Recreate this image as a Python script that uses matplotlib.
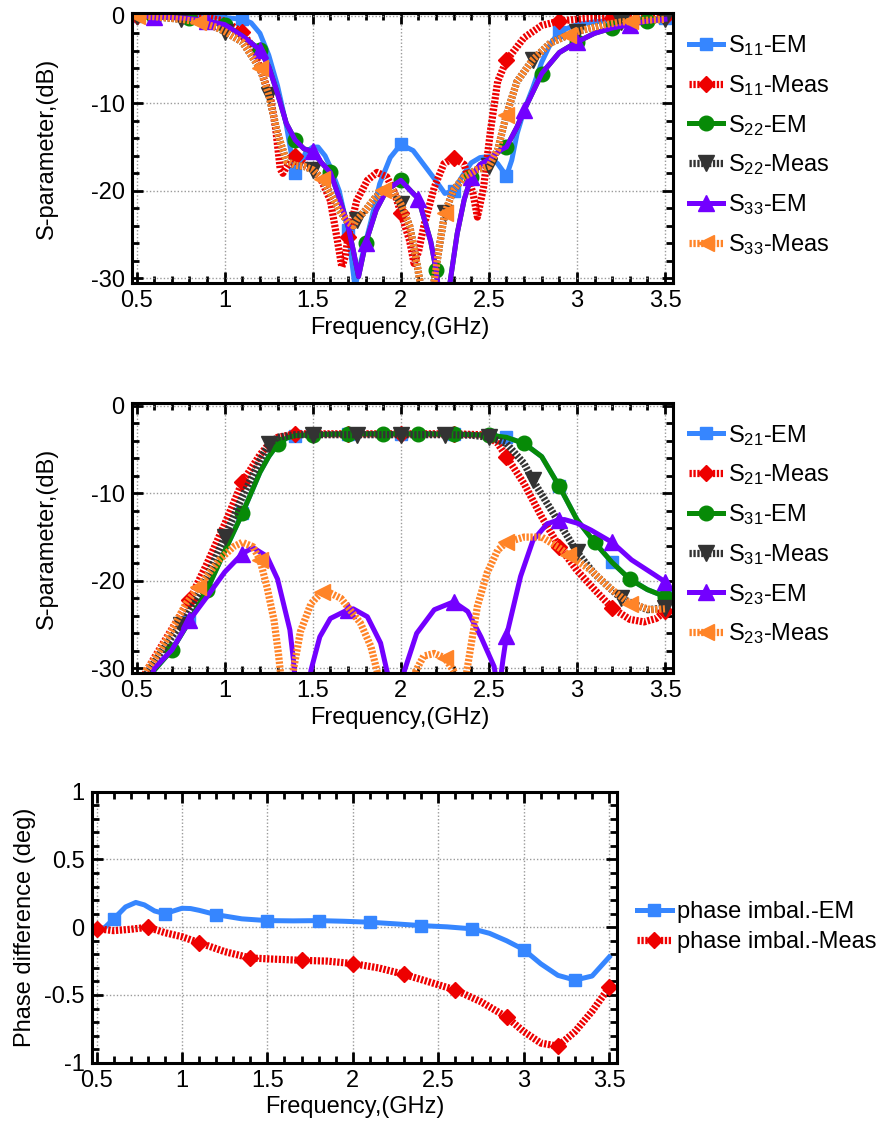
import numpy as np
import matplotlib
matplotlib.use("Agg")
import matplotlib.pyplot as plt
from matplotlib.ticker import MultipleLocator, FuncFormatter

plt.rcParams['font.family'] = ['Liberation Sans', 'DejaVu Sans']
plt.rcParams['mathtext.fontset'] = 'custom'
plt.rcParams['mathtext.rm'] = 'Liberation Sans'
plt.rcParams['mathtext.it'] = 'Liberation Sans:italic'
plt.rcParams['axes.unicode_minus'] = False
plt.rcParams['font.size'] = 17

# ---------------- reflection (top panel), (GHz, dB) ----------------
s11_em = [(0.5, 0), (0.8, 0), (1.0, -0.2), (1.1, -0.4), (1.15, -0.8), (1.2, -2.0), (1.25, -4.5),
          (1.3, -8.0), (1.35, -12.5), (1.38, -16.0), (1.4, -18.0), (1.43, -17.0), (1.46, -15.6),
          (1.5, -15.0), (1.53, -15.0), (1.57, -16.0), (1.6, -17.3), (1.65, -20.0), (1.7, -24.5),
          (1.74, -31.0), (1.78, -27.5), (1.83, -23.5), (1.88, -19.2), (1.94, -16.2), (2.0, -14.7),
          (2.07, -15.4), (2.13, -17.0), (2.19, -18.6), (2.25, -20.3), (2.3, -20.0), (2.35, -18.3),
          (2.4, -16.8), (2.45, -16.2), (2.5, -16.1), (2.55, -16.9), (2.6, -18.3), (2.63, -16.5),
          (2.66, -13.5), (2.7, -10.8), (2.75, -8.2), (2.8, -5.3), (2.85, -3.2), (2.9, -1.8),
          (3.0, -1.0), (3.1, -0.7), (3.2, -0.5), (3.35, -0.4), (3.5, -0.3)]
s11_meas = [(0.5, 0), (0.8, 0), (0.9, -0.2), (1.0, -0.6), (1.1, -1.9), (1.15, -3.3), (1.2, -5.9),
            (1.26, -9.3), (1.29, -13.0), (1.315, -17.5), (1.33, -18.0), (1.36, -17.0), (1.4, -16.0),
            (1.45, -16.9), (1.5, -17.6), (1.54, -18.4), (1.6, -21.1), (1.64, -25.7), (1.665, -28.7),
            (1.685, -27.5), (1.7, -25.3), (1.75, -21.1), (1.81, -18.8), (1.865, -17.9), (1.92, -18.4),
            (1.96, -20.0), (2.0, -22.5), (2.05, -25.7), (2.075, -28.3), (2.1, -27.0), (2.13, -24.1),
            (2.19, -19.6), (2.245, -16.9), (2.3, -16.2), (2.36, -17.0), (2.41, -20.3), (2.435, -23.0),
            (2.47, -19.6), (2.51, -13.0), (2.55, -7.5), (2.6, -5.1), (2.7, -2.5), (2.8, -1.1),
            (2.9, -0.6), (3.05, -0.3), (3.2, -0.2), (3.5, -0.1)]
s33_em = [(0.5, 0), (0.6, -0.1), (0.8, -0.3), (0.9, -0.6), (1.0, -1.0), (1.1, -2.3), (1.2, -3.9),
          (1.25, -5.8), (1.3, -8.9), (1.35, -12.3), (1.4, -14.2), (1.45, -15.2), (1.5, -15.5),
          (1.55, -16.8), (1.6, -17.9), (1.65, -20.8), (1.7, -24.0), (1.73, -26.8), (1.76, -29.8),
          (1.8, -26.0), (1.86, -22.2), (1.92, -19.9), (2.0, -18.8), (2.07, -20.3), (2.1, -20.9),
          (2.13, -23.0), (2.17, -25.8), (2.2, -29.0), (2.225, -33.0), (2.26, -33.0), (2.28, -30.4),
          (2.32, -24.9), (2.36, -21.0), (2.4, -18.4), (2.45, -17.0), (2.5, -16.4), (2.57, -15.3),
          (2.6, -15.0), (2.66, -12.7), (2.7, -10.8), (2.8, -6.6), (2.9, -4.2), (3.0, -3.0),
          (3.1, -2.0), (3.2, -1.4), (3.3, -1.0), (3.4, -0.6), (3.5, -0.4)]
s22_em = list(s33_em)
s33_meas = [(0.5, 0), (0.6, -0.1), (0.75, -0.4), (0.85, -0.7), (0.95, -1.3), (1.0, -1.8), (1.1, -3.0),
            (1.2, -6.0), (1.25, -9.0), (1.3, -13.4), (1.35, -16.6), (1.4, -17.1), (1.45, -17.2),
            (1.5, -17.6), (1.55, -18.6), (1.6, -20.3), (1.65, -22.2), (1.7, -23.6), (1.73, -24.0),
            (1.75, -23.3), (1.8, -22.2), (1.85, -20.9), (1.9, -19.9), (1.95, -19.8), (2.0, -21.5),
            (2.05, -24.0), (2.08, -27.0), (2.11, -30.5), (2.14, -33.0), (2.17, -33.0), (2.19, -30.2),
            (2.22, -26.2), (2.25, -22.5), (2.3, -19.9), (2.36, -18.4), (2.43, -17.6), (2.5, -17.2),
            (2.55, -15.3), (2.6, -11.3), (2.66, -7.5), (2.75, -5.0), (2.85, -3.1), (2.95, -2.2),
            (3.0, -1.8), (3.15, -1.05), (3.25, -0.7), (3.3, -0.65), (3.4, -0.5), (3.5, -0.4)]
s22_meas = list(s33_meas)

# ---------------- transmission / isolation (middle panel) ----------------
s31_em = [(0.55, -32.0), (0.6, -30.2), (0.7, -27.9), (0.8, -24.6), (0.9, -21.0), (1.0, -16.6),
          (1.1, -12.3), (1.2, -7.6), (1.25, -5.8), (1.3, -4.4), (1.35, -3.7), (1.4, -3.4),
          (1.5, -3.3), (1.7, -3.2), (1.9, -3.2), (2.0, -3.2), (2.1, -3.2), (2.3, -3.25), (2.5, -3.35),
          (2.6, -3.6), (2.7, -4.3), (2.8, -5.8), (2.9, -9.2), (3.0, -13.0), (3.1, -15.6),
          (3.2, -17.9), (3.3, -19.8), (3.4, -21.0), (3.5, -21.8)]
s21_em = list(s31_em)
s21_meas = [(0.53, -32.0), (0.55, -30.5), (0.6, -28.8), (0.7, -25.5), (0.8, -22.2), (0.9, -18.0),
            (1.0, -13.5), (1.1, -8.7), (1.2, -5.6), (1.25, -4.4), (1.3, -3.6), (1.4, -3.2),
            (1.7, -3.2), (2.0, -3.2), (2.3, -3.2), (2.45, -3.3), (2.5, -3.5), (2.55, -4.3),
            (2.6, -5.8), (2.7, -8.9), (2.8, -12.7), (2.9, -16.1), (3.0, -18.8), (3.1, -21.0),
            (3.2, -23.1), (3.3, -24.4), (3.38, -24.7), (3.45, -24.3), (3.5, -23.5)]
s31_meas = [(0.54, -32.0), (0.56, -30.5), (0.65, -27.8), (0.75, -25.0), (0.85, -21.5), (0.9, -19.5),
            (1.0, -15.0), (1.1, -10.4), (1.2, -6.2), (1.25, -4.4), (1.3, -3.6), (1.4, -3.3),
            (1.5, -3.3), (1.75, -3.3), (2.0, -3.3), (2.25, -3.3), (2.4, -3.35), (2.5, -3.6),
            (2.6, -4.3), (2.7, -6.6), (2.75, -8.5), (2.9, -13.4), (3.0, -16.7), (3.1, -19.2),
            (3.25, -22.0), (3.4, -23.3), (3.5, -23.1)]
s23_em = [(0.57, -32.0), (0.6, -30.0), (0.7, -27.9), (0.8, -24.5), (0.9, -21.8), (1.0, -19.0),
          (1.1, -16.9), (1.16, -16.2), (1.24, -17.2), (1.3, -19.8), (1.37, -25.6), (1.39, -29.0),
          (1.4, -31.5), (1.43, -34.0), (1.46, -34.0), (1.49, -30.2), (1.54, -26.4), (1.6, -24.3),
          (1.7, -23.3), (1.73, -23.2), (1.81, -24.1), (1.885, -27.1), (1.92, -30.2), (1.97, -34.0),
          (2.0, -33.5), (2.02, -30.3), (2.09, -26.0), (2.19, -23.3), (2.3, -22.4), (2.38, -23.5),
          (2.455, -26.4), (2.53, -29.8), (2.555, -33.0), (2.58, -29.0), (2.6, -26.3), (2.68, -19.5),
          (2.75, -15.4), (2.83, -13.5), (2.9, -13.0), (2.93, -13.0), (3.0, -13.4), (3.08, -14.2),
          (3.2, -15.6), (3.31, -17.6), (3.44, -19.3), (3.5, -20.1)]
s23_meas = [(0.53, -32.0), (0.555, -30.2), (0.6, -29.0), (0.69, -26.0), (0.78, -22.6), (0.85, -20.7),
            (0.9, -19.4), (0.97, -17.6), (1.05, -16.1), (1.1, -15.6), (1.16, -16.1), (1.2, -17.6),
            (1.24, -20.7), (1.28, -24.5), (1.305, -28.3), (1.315, -30.2), (1.33, -34.0), (1.37, -34.0),
            (1.39, -30.2), (1.43, -25.8), (1.49, -22.6), (1.55, -21.3), (1.6, -21.4), (1.66, -22.0),
            (1.77, -24.8), (1.83, -27.5), (1.865, -30.3), (1.88, -34.0), (1.9, -35.0), (2.07, -34.0),
            (2.085, -30.3), (2.13, -28.6), (2.19, -28.3), (2.25, -28.8), (2.3, -30.3), (2.33, -34.0),
            (2.36, -34.0), (2.375, -30.3), (2.435, -22.9), (2.49, -19.1), (2.55, -16.5), (2.6, -15.6),
            (2.7, -15.0), (2.8, -15.0), (2.89, -16.1), (2.95, -17.0), (3.08, -18.8), (3.18, -20.7),
            (3.3, -22.6), (3.42, -23.3), (3.5, -23.2)]

# ---------------- phase imbalance (bottom panel), (GHz, deg) ----------------
phase_em = [(0.5, -0.03), (0.55, 0.0), (0.6, 0.061), (0.67, 0.15), (0.73, 0.183), (0.78, 0.165),
            (0.84, 0.12), (0.9, 0.10), (0.95, 0.12), (1.0, 0.14), (1.05, 0.138), (1.1, 0.125),
            (1.2, 0.093), (1.35, 0.062), (1.5, 0.049), (1.65, 0.047), (1.8, 0.049), (1.95, 0.044),
            (2.1, 0.037), (2.25, 0.025), (2.4, 0.012), (2.55, 0.003), (2.7, -0.012), (2.8, -0.045),
            (2.9, -0.1), (3.0, -0.165), (3.1, -0.27), (3.2, -0.355), (3.3, -0.39), (3.4, -0.36),
            (3.5, -0.22)]
phase_meas = [(0.5, -0.01), (0.6, -0.025), (0.7, -0.015), (0.8, 0.0), (0.9, -0.04), (1.0, -0.07),
              (1.1, -0.114), (1.25, -0.18), (1.4, -0.227), (1.55, -0.236), (1.7, -0.244),
              (1.85, -0.25), (2.0, -0.268), (2.15, -0.3), (2.3, -0.348), (2.45, -0.405),
              (2.6, -0.463), (2.75, -0.55), (2.9, -0.663), (3.0, -0.77), (3.1, -0.855),
              (3.2, -0.878), (3.3, -0.77), (3.4, -0.62), (3.5, -0.444)]

# marker frequencies of each trace
mk_03 = [0.5, 0.8, 1.1, 1.4, 1.7, 2.0, 2.3, 2.6, 2.9, 3.2, 3.5]
mk_02a = [0.6, 0.8, 1.0, 1.2, 1.4, 1.6, 1.8, 2.0, 2.2, 2.4, 2.6, 2.8, 3.0, 3.2, 3.4]
mk_02b = [0.7, 0.9, 1.1, 1.3, 1.5, 1.7, 1.9, 2.1, 2.3, 2.5, 2.7, 2.9, 3.1, 3.3, 3.5]
mk_025 = [0.5, 0.75, 1.0, 1.25, 1.5, 1.75, 2.0, 2.25, 2.5, 2.75, 3.0, 3.25, 3.5]
mk_03b = [0.6, 0.9, 1.2, 1.5, 1.8, 2.1, 2.4, 2.7, 3.0, 3.3]
mk_035 = [0.5, 0.85, 1.2, 1.55, 1.9, 2.25, 2.6, 2.95, 3.3]

BLUE = '#3686ff'
RED = '#ee0000'
GREEN = '#078a07'
BLACK = '#333333'
PURPLE = '#7300ff'
ORANGE = '#ff8428'


def trace(ax, data, marks, color, marker, ms, meas=False):
    f, v = np.array(data).T
    every = [i for i, x in enumerate(f) if np.any(np.isclose(x, marks))]
    if meas:
        # measured traces: thick, finely dotted line
        line, = ax.plot(f, v, color=color, lw=5.2, ls=(0, (0.32, 0.22)), marker=marker,
                        ms=ms, markevery=every, mec=color, mfc=color, zorder=2)
        return line
    line, = ax.plot(f, v, color=color, lw=3.6, marker=marker, ms=ms, markevery=every,
                    mec=color, mfc=color, zorder=2)
    return line


fmt = FuncFormatter(lambda x, p: '%g' % x)


def frame(ax, ymin, ymax, ymaj, ymin_step):
    ax.set_xlim(0.4716, 3.547)
    ax.set_ylim(ymin, ymax)
    ax.xaxis.set_major_locator(MultipleLocator(0.5))
    ax.xaxis.set_minor_locator(MultipleLocator(0.1))
    ax.yaxis.set_major_locator(MultipleLocator(ymaj))
    ax.yaxis.set_minor_locator(MultipleLocator(ymin_step))
    ax.xaxis.set_major_formatter(fmt)
    ax.yaxis.set_major_formatter(fmt)
    ax.tick_params(which='both', direction='in', top=True, right=True, width=2, labelsize=17)
    ax.tick_params(which='major', length=8, pad=5)
    ax.tick_params(which='minor', length=5)
    ax.grid(True, which='major', ls=(0, (1, 1.5)), color='#9a9a9a', lw=1)
    for s in ax.spines.values():
        s.set_linewidth(2.2)
    ax.set_axisbelow(True)


fig = plt.figure(figsize=(8.89, 11.24), dpi=100)
ax1 = fig.add_axes([0.1481, 0.7485, 0.6092, 0.2397])
ax2 = fig.add_axes([0.1481, 0.4015, 0.6092, 0.2397])
ax3 = fig.add_axes([0.1031, 0.0545, 0.5912, 0.2411])

leg_kw = dict(loc='upper left', bbox_transform=fig.transFigure, frameon=False, borderpad=0,
              borderaxespad=0, handlelength=1.45, handletextpad=0.2, labelspacing=0.63,
              fontsize=17)

# top panel
h = [trace(ax1, s11_em, mk_03, BLUE, 's', 9),
     trace(ax1, s11_meas, mk_03, RED, 'D', 8.5, True),
     trace(ax1, s22_em, mk_02a, GREEN, 'o', 10.5),
     trace(ax1, s22_meas, mk_025, BLACK, 'v', 11, True),
     trace(ax1, s33_em, mk_03b, PURPLE, '^', 11),
     trace(ax1, s33_meas, mk_035, ORANGE, '<', 11, True)]
lab = [r'S$_{11}$-EM', r'S$_{11}$-Meas', r'S$_{22}$-EM', r'S$_{22}$-Meas',
       r'S$_{33}$-EM', r'S$_{33}$-Meas']
frame(ax1, -30.5, 0.29, 10, 2)
ax1.legend(h, lab, bbox_to_anchor=(0.775, 0.9705), **leg_kw)

# middle panel
h = [trace(ax2, s21_em, mk_03, BLUE, 's', 9),
     trace(ax2, s21_meas, mk_03, RED, 'D', 8.5, True),
     trace(ax2, s31_em, mk_02b, GREEN, 'o', 10.5),
     trace(ax2, s31_meas, mk_025, BLACK, 'v', 11, True),
     trace(ax2, s23_em, mk_03, PURPLE, '^', 11),
     trace(ax2, s23_meas, mk_035, ORANGE, '<', 11, True)]
lab = [r'S$_{21}$-EM', r'S$_{21}$-Meas', r'S$_{31}$-EM', r'S$_{31}$-Meas',
       r'S$_{23}$-EM', r'S$_{23}$-Meas']
frame(ax2, -30.5, 0.29, 10, 2)
ax2.legend(h, lab, bbox_to_anchor=(0.775, 0.624), **leg_kw)

for ax in (ax1, ax2):
    ax.set_xlabel('Frequency,(GHz)', fontsize=17)
    ax.set_ylabel('S-parameter,(dB)', fontsize=17)
    ax.xaxis.set_label_coords(0.495, -0.127)
    ax.yaxis.set_label_coords(-0.136, 0.5)

# bottom panel
h = [trace(ax3, phase_em, mk_03b, BLUE, 's', 9),
     trace(ax3, phase_meas, mk_03, RED, 'D', 8.5, True)]
frame(ax3, -1, 1, 0.5, 0.1)
leg_kw.update(handlelength=1.5, labelspacing=0.32)
ax3.legend(h, ['phase imbal.-EM', 'phase imbal.-Meas'], bbox_to_anchor=(0.716, 0.198), **leg_kw)
ax3.set_xlabel('Frequency,(GHz)', fontsize=17)
ax3.set_ylabel('Phase difference (deg)', fontsize=17)
ax3.xaxis.set_label_coords(0.5, -0.123)
ax3.yaxis.set_label_coords(-0.106, 0.5)

fig.savefig('out.png', dpi=100)
